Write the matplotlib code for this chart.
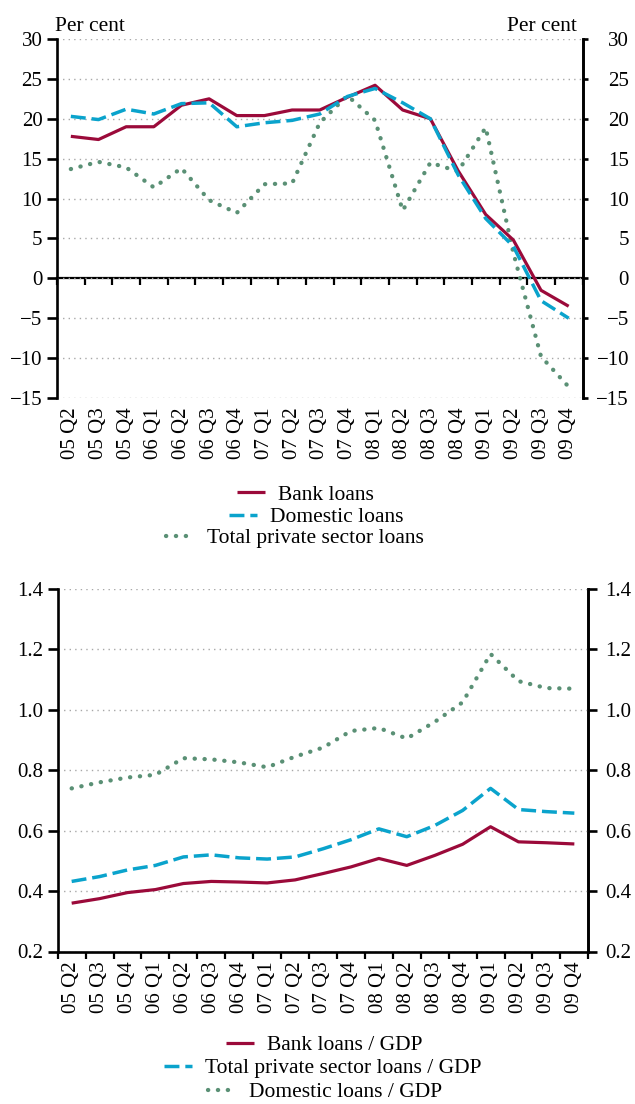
import matplotlib
matplotlib.use('Agg')
import matplotlib.pyplot as plt
from matplotlib.lines import Line2D
import numpy as np

plt.rcParams['font.family'] = ['Liberation Serif', 'DejaVu Serif']

quarters = ['05 Q2', '05 Q3', '05 Q4', '06 Q1', '06 Q2', '06 Q3', '06 Q4',
            '07 Q1', '07 Q2', '07 Q3', '07 Q4', '08 Q1', '08 Q2', '08 Q3',
            '08 Q4', '09 Q1', '09 Q2', '09 Q3', '09 Q4']

# Top panel: annual growth, per cent
bank_growth = [17.8, 17.4, 19.0, 19.0, 21.7, 22.5, 20.4, 20.4, 21.1, 21.1,
               22.7, 24.2, 21.1, 20.0, 13.5, 8.0, 4.8, -1.5, -3.5]
domestic_growth = [20.3, 19.9, 21.2, 20.6, 21.9, 22.0, 19.0, 19.5, 19.8, 20.6,
                   22.8, 23.8, 22.0, 20.0, 13.0, 7.5, 4.0, -2.8, -5.0]
private_growth = [13.7, 14.6, 13.9, 11.4, 13.8, 9.8, 8.2, 11.8, 11.9, 19.5,
                  22.9, 19.8, 8.5, 14.5, 13.4, 18.9, 3.2, -9.8, -13.6]

# Bottom panel: ratios to GDP
bank_gdp = [0.360, 0.375, 0.395, 0.405, 0.425, 0.432, 0.430, 0.427, 0.437,
            0.458, 0.480, 0.508, 0.485, 0.518, 0.555, 0.613, 0.563, 0.560, 0.556]
private_gdp = [0.432, 0.448, 0.470, 0.485, 0.513, 0.520, 0.510, 0.506, 0.513,
               0.540, 0.570, 0.606, 0.580, 0.617, 0.667, 0.740, 0.670, 0.663, 0.658]
domestic_gdp = [0.740, 0.760, 0.776, 0.785, 0.840, 0.836, 0.826, 0.810, 0.845,
                0.875, 0.930, 0.940, 0.905, 0.960, 1.025, 1.185, 1.095, 1.072, 1.070]

top_ticks = [-15, -10, -5, 0, 5, 10, 15, 20, 25, 30]
bottom_ticks = [0.2, 0.4, 0.6, 0.8, 1.0, 1.2, 1.4]

RED = '#9b0a3a'
BLUE = '#0aa3cc'
GREEN = '#5a9075'
GRID = '#a8a8a8'
FS = 15
LFS = 15.5

x = np.arange(len(quarters))
bounds = np.arange(len(quarters) + 1) - 0.5

fig = plt.figure(figsize=(6.35, 11.04), dpi=100)

red_kw = dict(color=RED, lw=2.3, solid_capstyle='butt')
blue_kw = dict(color=BLUE, lw=2.5, dashes=(4.3, 1.7), dash_capstyle='butt')
green_kw = dict(color=GREEN, lw=3.1, dashes=(0.05, 2.25), dash_capstyle='round')


def style_axes(ax, ticks, labels, ylim):
    ax.set_xlim(-0.5, len(quarters) - 0.5)
    ax.set_ylim(*ylim)
    ax.set_yticks(ticks, labels=labels)
    ax.yaxis.grid(True, linestyle=(0, (1, 3)), color=GRID, lw=1)
    ax.set_axisbelow(True)
    ax.spines['top'].set_visible(False)
    for s in ('left', 'right'):
        ax.spines[s].set_linewidth(1.9)
    ax.tick_params(axis='y', which='major', direction='out', length=7.5, width=1.9,
                   pad=3, labelsize=FS, right=False)
    ax.set_xticks(x, labels=quarters, rotation=90)
    ax.tick_params(axis='x', which='major', length=0, pad=7, labelsize=FS)


# ---------- top panel ----------
ax1 = fig.add_axes([57 / 635, 1 - 398 / 1104, 525.5 / 635, 359 / 1104])
top_labels = [str(v).replace('-', '\u2212') for v in top_ticks]
style_axes(ax1, top_ticks, top_labels, (-15, 30))
ax1.spines['bottom'].set_visible(False)
ax1.spines['right'].set_visible(True)

ax1.plot(x, bank_growth, **red_kw, zorder=4)
ax1.plot(x, domestic_growth, **blue_kw, zorder=5)
ax1.plot(x, private_growth, **green_kw, zorder=3)

r1 = ax1.secondary_yaxis('right')
r1.set_yticks(top_ticks, labels=top_labels, ha='right')
r1.spines['right'].set_linewidth(1.9)
r1.tick_params(direction='out', length=3.5, width=1.9, pad=30, labelsize=FS)

zero = ax1.secondary_xaxis((0 - (-15)) / 45)
zero.set_xticks(bounds, labels=[''] * len(bounds))
zero.spines['bottom'].set_linewidth(1.6)
zero.tick_params(direction='out', length=5, width=1.6)

fig.text(55 / 635, 1 - 31 / 1104, 'Per cent', ha='left', va='baseline', fontsize=LFS)
fig.text(577 / 635, 1 - 31 / 1104, 'Per cent', ha='right', va='baseline', fontsize=LFS)

# ---------- bottom panel ----------
ax3 = fig.add_axes([57.7 / 635, 1 - 951.5 / 1104, 530.6 / 635, 362.5 / 1104])
bottom_labels = [f'{v:.1f}' for v in bottom_ticks]
style_axes(ax3, bottom_ticks, bottom_labels, (0.2, 1.4))
ax3.spines['bottom'].set_linewidth(1.9)
ax3.set_xticks(bounds, minor=True)
ax3.tick_params(axis='x', which='minor', direction='out', length=5, width=1.6)

ax3.plot(x, bank_gdp, **red_kw, zorder=4)
ax3.plot(x, private_gdp, **blue_kw, zorder=5)
ax3.plot(x, domestic_gdp, **green_kw, zorder=3)

r3 = ax3.secondary_yaxis('right')
r3.set_yticks(bottom_ticks, labels=bottom_labels)
r3.spines['right'].set_linewidth(1.9)
r3.tick_params(direction='out', length=6.5, width=1.9, pad=5.5, labelsize=FS)

# ---------- legends (one centred row per entry) ----------
def legend_row(handle_kw, text, cx, cy):
    h = Line2D([], [], **handle_kw)
    fig.legend(handles=[h], labels=[text], loc='center',
               bbox_to_anchor=(cx / 635, 1 - cy / 1104), frameon=False,
               handlelength=1.3, handletextpad=0.6, borderpad=0,
               borderaxespad=0, fontsize=LFS)

legend_row(red_kw, 'Bank loans', 305, 495)
legend_row(blue_kw, 'Domestic loans', 316, 517)
legend_row(green_kw, 'Total private sector loans', 295, 538)

legend_row(red_kw, 'Bank loans / GDP', 324, 1045)
legend_row(blue_kw, 'Total private sector loans / GDP', 323, 1068)
legend_row(green_kw, 'Domestic loans / GDP', 325, 1092)

fig.savefig('out.png', dpi=100)
